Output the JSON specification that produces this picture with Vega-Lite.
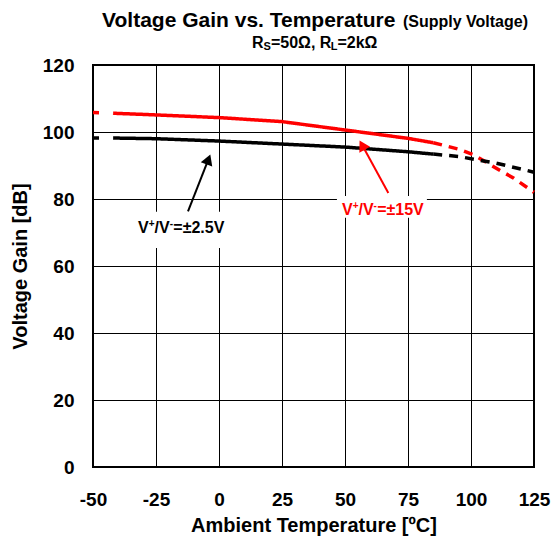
{
  "$schema": "https://vega.github.io/schema/vega-lite/v6.json",
  "width": 441,
  "height": 402,
  "autosize": {"type": "none"},
  "padding": {"left": 93, "top": 65, "right": 23, "bottom": 74},
  "background": "white",
  "config": {
    "view": {"stroke": "#000", "strokeWidth": 2},
    "font": "Liberation Sans",
    "axis": {
      "grid": true,
      "gridColor": "#000",
      "gridOpacity": 1,
      "gridWidth": 1,
      "domain": false,
      "ticks": false,
      "labelFont": "Liberation Sans",
      "labelFontSize": 19,
      "labelFontWeight": "bold",
      "labelColor": "#000",
      "labelExpr": "'' + datum.value",
      "titleFont": "Liberation Sans",
      "titleFontSize": 20,
      "titleFontWeight": "bold",
      "titleColor": "#000"
    },
    "axisX": {"labelPadding": 23, "titlePadding": 6, "labelFlush": false, "labelOverlap": false},
    "axisY": {"labelPadding": 19, "titlePadding": 12}
  },
  "datasets": {
    "curves": [
      {"supply": "±15V", "seg": "r1", "style": "lead", "temp": -50, "gain": 105.8},
      {"supply": "±15V", "seg": "r1", "style": "lead", "temp": -42, "gain": 105.6},
      {"supply": "±15V", "seg": "r2", "style": "solid", "temp": -42, "gain": 105.6},
      {"supply": "±15V", "seg": "r2", "style": "solid", "temp": -25, "gain": 105.1},
      {"supply": "±15V", "seg": "r2", "style": "solid", "temp": 0, "gain": 104.3},
      {"supply": "±15V", "seg": "r2", "style": "solid", "temp": 25, "gain": 103.1},
      {"supply": "±15V", "seg": "r2", "style": "solid", "temp": 50, "gain": 100.6},
      {"supply": "±15V", "seg": "r2", "style": "solid", "temp": 75, "gain": 98.1},
      {"supply": "±15V", "seg": "r2", "style": "solid", "temp": 85, "gain": 96.8},
      {"supply": "±15V", "seg": "r3", "style": "trail", "temp": 85, "gain": 96.8},
      {"supply": "±15V", "seg": "r3", "style": "trail", "temp": 95, "gain": 94.9},
      {"supply": "±15V", "seg": "r3", "style": "trail", "temp": 101, "gain": 93.2},
      {"supply": "±15V", "seg": "r3", "style": "trail", "temp": 110, "gain": 89.2},
      {"supply": "±15V", "seg": "r3", "style": "trail", "temp": 117, "gain": 86.2},
      {"supply": "±15V", "seg": "r3", "style": "trail", "temp": 125, "gain": 82.0},
      {"supply": "±2.5V", "seg": "b1", "style": "lead", "temp": -50, "gain": 98.2},
      {"supply": "±2.5V", "seg": "b1", "style": "lead", "temp": -42, "gain": 98.2},
      {"supply": "±2.5V", "seg": "b2", "style": "solid", "temp": -42, "gain": 98.2},
      {"supply": "±2.5V", "seg": "b2", "style": "solid", "temp": -25, "gain": 98.0},
      {"supply": "±2.5V", "seg": "b2", "style": "solid", "temp": 0, "gain": 97.3},
      {"supply": "±2.5V", "seg": "b2", "style": "solid", "temp": 25, "gain": 96.4},
      {"supply": "±2.5V", "seg": "b2", "style": "solid", "temp": 50, "gain": 95.5},
      {"supply": "±2.5V", "seg": "b2", "style": "solid", "temp": 75, "gain": 94.1},
      {"supply": "±2.5V", "seg": "b2", "style": "solid", "temp": 85, "gain": 93.4},
      {"supply": "±2.5V", "seg": "b3", "style": "trail", "temp": 85, "gain": 93.4},
      {"supply": "±2.5V", "seg": "b3", "style": "trail", "temp": 95, "gain": 92.7},
      {"supply": "±2.5V", "seg": "b3", "style": "trail", "temp": 110, "gain": 90.7},
      {"supply": "±2.5V", "seg": "b3", "style": "trail", "temp": 120, "gain": 88.9},
      {"supply": "±2.5V", "seg": "b3", "style": "trail", "temp": 125, "gain": 88.0}
    ],
    "boxes": [
      {"supply": "±2.5V", "t1": -33.3, "t2": 4.4, "g1": 65.4, "g2": 76.2},
      {"supply": "±15V", "t1": 46.8, "t2": 82.5, "g1": 74.4, "g2": 80.9}
    ],
    "arrows": [
      {"supply": "±2.5V", "t1": -12.3, "g1": 76.3, "t2": -4.2, "g2": 91.8},
      {"supply": "±15V", "t1": 67.2, "g1": 81.8, "t2": 56.8, "g2": 96.1}
    ],
    "labels": [
      {"supply": "±2.5V", "temp": -32.1, "gain": 69.8, "p1": "V", "p2": "+", "p3": "/V", "p4": "-", "p5": "=±2.5V"},
      {"supply": "±15V", "temp": 48.8, "gain": 75.3, "p1": "V", "p2": "+", "p3": "/V", "p4": "-", "p5": "=±15V"}
    ],
    "heading": [
      {"part": "main", "temp": -46.4, "gain": 131.2, "txt": "Voltage Gain vs. Temperature"},
      {"part": "paren", "temp": 73.0, "gain": 131.2, "txt": "(Supply Voltage)"}
    ],
    "cond": [
      {"temp": 13.1, "gain": 125.0, "p1": "R", "p2": "S", "p3": "=50Ω, R", "p4": "L", "p5": "=2kΩ"}
    ]
  },
  "layer": [
    {
      "data": {"name": "boxes"},
      "mark": {"type": "rect", "fill": "white", "stroke": null},
      "encoding": {
        "x": {"field": "t1", "type": "quantitative", "scale": {"domain": [-50, 125], "nice": false}, "axis": {"values": [-50, -25, 0, 25, 50, 75, 100, 125]}, "title": "Ambient Temperature [ºC]"},
        "x2": {"field": "t2"},
        "y": {"field": "g1", "type": "quantitative", "scale": {"domain": [0, 120], "nice": false}, "axis": {"values": [0, 20, 40, 60, 80, 100, 120]}, "title": "Voltage Gain [dB]"},
        "y2": {"field": "g2"}
      }
    },
    {
      "data": {"name": "curves"},
      "mark": {"type": "line", "strokeWidth": 3.5, "strokeCap": "butt"},
      "encoding": {
        "x": {"field": "temp", "type": "quantitative", "scale": {"domain": [-50, 125], "nice": false}, "title": "Ambient Temperature [ºC]"},
        "y": {"field": "gain", "type": "quantitative", "scale": {"domain": [0, 120], "nice": false}, "title": "Voltage Gain [dB]"},
        "color": {"field": "supply", "type": "nominal", "scale": {"domain": ["±15V", "±2.5V"], "range": ["#ff0000", "#000000"]}, "legend": null},
        "strokeDash": {"field": "style", "type": "nominal", "scale": {"domain": ["solid", "lead", "trail"], "range": [[1, 0], [6, 14], [9, 7]]}, "legend": null},
        "detail": {"field": "seg", "type": "nominal"},
        "order": {"field": "temp", "type": "quantitative"}
      }
    },
    {
      "data": {"name": "arrows"},
      "mark": {"type": "rule", "strokeWidth": 2},
      "encoding": {
        "x": {"field": "t1", "type": "quantitative", "title": "Ambient Temperature [ºC]"},
        "y": {"field": "g1", "type": "quantitative", "title": "Voltage Gain [dB]"},
        "x2": {"field": "t2"},
        "y2": {"field": "g2"},
        "color": {"field": "supply", "type": "nominal", "legend": null}
      }
    },
    {
      "data": {"name": "arrows"},
      "transform": [{"filter": "datum.supply === '±2.5V'"}],
      "mark": {"type": "point", "shape": "triangle-up", "filled": true, "opacity": 1, "size": 150, "angle": 21},
      "encoding": {
        "x": {"field": "t2", "type": "quantitative", "title": "Ambient Temperature [ºC]"},
        "y": {"field": "g2", "type": "quantitative", "title": "Voltage Gain [dB]"},
        "color": {"field": "supply", "type": "nominal", "legend": null}
      }
    },
    {
      "data": {"name": "arrows"},
      "transform": [{"filter": "datum.supply === '±15V'"}],
      "mark": {"type": "point", "shape": "triangle-up", "filled": true, "opacity": 1, "size": 150, "angle": -29},
      "encoding": {
        "x": {"field": "t2", "type": "quantitative", "title": "Ambient Temperature [ºC]"},
        "y": {"field": "g2", "type": "quantitative", "title": "Voltage Gain [dB]"},
        "color": {"field": "supply", "type": "nominal", "legend": null}
      }
    },
    {
      "data": {"name": "labels"},
      "mark": {"type": "text", "font": "Liberation Sans", "fontSize": 16, "fontWeight": "bold", "align": "left", "baseline": "alphabetic"},
      "encoding": {
        "x": {"field": "temp", "type": "quantitative", "title": "Ambient Temperature [ºC]"},
        "y": {"field": "gain", "type": "quantitative", "title": "Voltage Gain [dB]"},
        "text": {"field": "p1"},
        "color": {"field": "supply", "type": "nominal", "legend": null}
      }
    },
    {
      "data": {"name": "labels"},
      "mark": {"type": "text", "font": "Liberation Sans", "fontSize": 10, "fontWeight": "bold", "align": "left", "baseline": "alphabetic", "dx": 10.7, "dy": -6},
      "encoding": {
        "x": {"field": "temp", "type": "quantitative", "title": "Ambient Temperature [ºC]"},
        "y": {"field": "gain", "type": "quantitative", "title": "Voltage Gain [dB]"},
        "text": {"field": "p2"},
        "color": {"field": "supply", "type": "nominal", "legend": null}
      }
    },
    {
      "data": {"name": "labels"},
      "mark": {"type": "text", "font": "Liberation Sans", "fontSize": 16, "fontWeight": "bold", "align": "left", "baseline": "alphabetic", "dx": 16.5},
      "encoding": {
        "x": {"field": "temp", "type": "quantitative", "title": "Ambient Temperature [ºC]"},
        "y": {"field": "gain", "type": "quantitative", "title": "Voltage Gain [dB]"},
        "text": {"field": "p3"},
        "color": {"field": "supply", "type": "nominal", "legend": null}
      }
    },
    {
      "data": {"name": "labels"},
      "mark": {"type": "text", "font": "Liberation Sans", "fontSize": 10, "fontWeight": "bold", "align": "left", "baseline": "alphabetic", "dx": 31.6, "dy": -6},
      "encoding": {
        "x": {"field": "temp", "type": "quantitative", "title": "Ambient Temperature [ºC]"},
        "y": {"field": "gain", "type": "quantitative", "title": "Voltage Gain [dB]"},
        "text": {"field": "p4"},
        "color": {"field": "supply", "type": "nominal", "legend": null}
      }
    },
    {
      "data": {"name": "labels"},
      "mark": {"type": "text", "font": "Liberation Sans", "fontSize": 16, "fontWeight": "bold", "align": "left", "baseline": "alphabetic", "dx": 35.2},
      "encoding": {
        "x": {"field": "temp", "type": "quantitative", "title": "Ambient Temperature [ºC]"},
        "y": {"field": "gain", "type": "quantitative", "title": "Voltage Gain [dB]"},
        "text": {"field": "p5"},
        "color": {"field": "supply", "type": "nominal", "legend": null}
      }
    },
    {
      "data": {"name": "heading"},
      "transform": [{"filter": "datum.part === 'main'"}],
      "mark": {"type": "text", "font": "Liberation Sans", "fontSize": 21, "fontWeight": "bold", "align": "left", "baseline": "alphabetic", "color": "#000"},
      "encoding": {
        "x": {"field": "temp", "type": "quantitative", "title": "Ambient Temperature [ºC]"},
        "y": {"field": "gain", "type": "quantitative", "title": "Voltage Gain [dB]"},
        "text": {"field": "txt"}
      }
    },
    {
      "data": {"name": "heading"},
      "transform": [{"filter": "datum.part === 'paren'"}],
      "mark": {"type": "text", "font": "Liberation Sans", "fontSize": 16, "fontWeight": "bold", "align": "left", "baseline": "alphabetic", "color": "#000"},
      "encoding": {
        "x": {"field": "temp", "type": "quantitative", "title": "Ambient Temperature [ºC]"},
        "y": {"field": "gain", "type": "quantitative", "title": "Voltage Gain [dB]"},
        "text": {"field": "txt"}
      }
    },
    {
      "data": {"name": "cond"},
      "mark": {"type": "text", "font": "Liberation Sans", "fontSize": 16, "fontWeight": "bold", "align": "left", "baseline": "alphabetic", "color": "#000"},
      "encoding": {
        "x": {"field": "temp", "type": "quantitative", "title": "Ambient Temperature [ºC]"},
        "y": {"field": "gain", "type": "quantitative", "title": "Voltage Gain [dB]"},
        "text": {"field": "p1"}
      }
    },
    {
      "data": {"name": "cond"},
      "mark": {"type": "text", "font": "Liberation Sans", "fontSize": 11, "fontWeight": "bold", "align": "left", "baseline": "alphabetic", "color": "#000", "dx": 11.6, "dy": 2},
      "encoding": {
        "x": {"field": "temp", "type": "quantitative", "title": "Ambient Temperature [ºC]"},
        "y": {"field": "gain", "type": "quantitative", "title": "Voltage Gain [dB]"},
        "text": {"field": "p2"}
      }
    },
    {
      "data": {"name": "cond"},
      "mark": {"type": "text", "font": "Liberation Sans", "fontSize": 16, "fontWeight": "bold", "align": "left", "baseline": "alphabetic", "color": "#000", "dx": 18.9},
      "encoding": {
        "x": {"field": "temp", "type": "quantitative", "title": "Ambient Temperature [ºC]"},
        "y": {"field": "gain", "type": "quantitative", "title": "Voltage Gain [dB]"},
        "text": {"field": "p3"}
      }
    },
    {
      "data": {"name": "cond"},
      "mark": {"type": "text", "font": "Liberation Sans", "fontSize": 11, "fontWeight": "bold", "align": "left", "baseline": "alphabetic", "color": "#000", "dx": 78.7, "dy": 2},
      "encoding": {
        "x": {"field": "temp", "type": "quantitative", "title": "Ambient Temperature [ºC]"},
        "y": {"field": "gain", "type": "quantitative", "title": "Voltage Gain [dB]"},
        "text": {"field": "p4"}
      }
    },
    {
      "data": {"name": "cond"},
      "mark": {"type": "text", "font": "Liberation Sans", "fontSize": 16, "fontWeight": "bold", "align": "left", "baseline": "alphabetic", "color": "#000", "dx": 85.4},
      "encoding": {
        "x": {"field": "temp", "type": "quantitative", "title": "Ambient Temperature [ºC]"},
        "y": {"field": "gain", "type": "quantitative", "title": "Voltage Gain [dB]"},
        "text": {"field": "p5"}
      }
    }
  ]
}
